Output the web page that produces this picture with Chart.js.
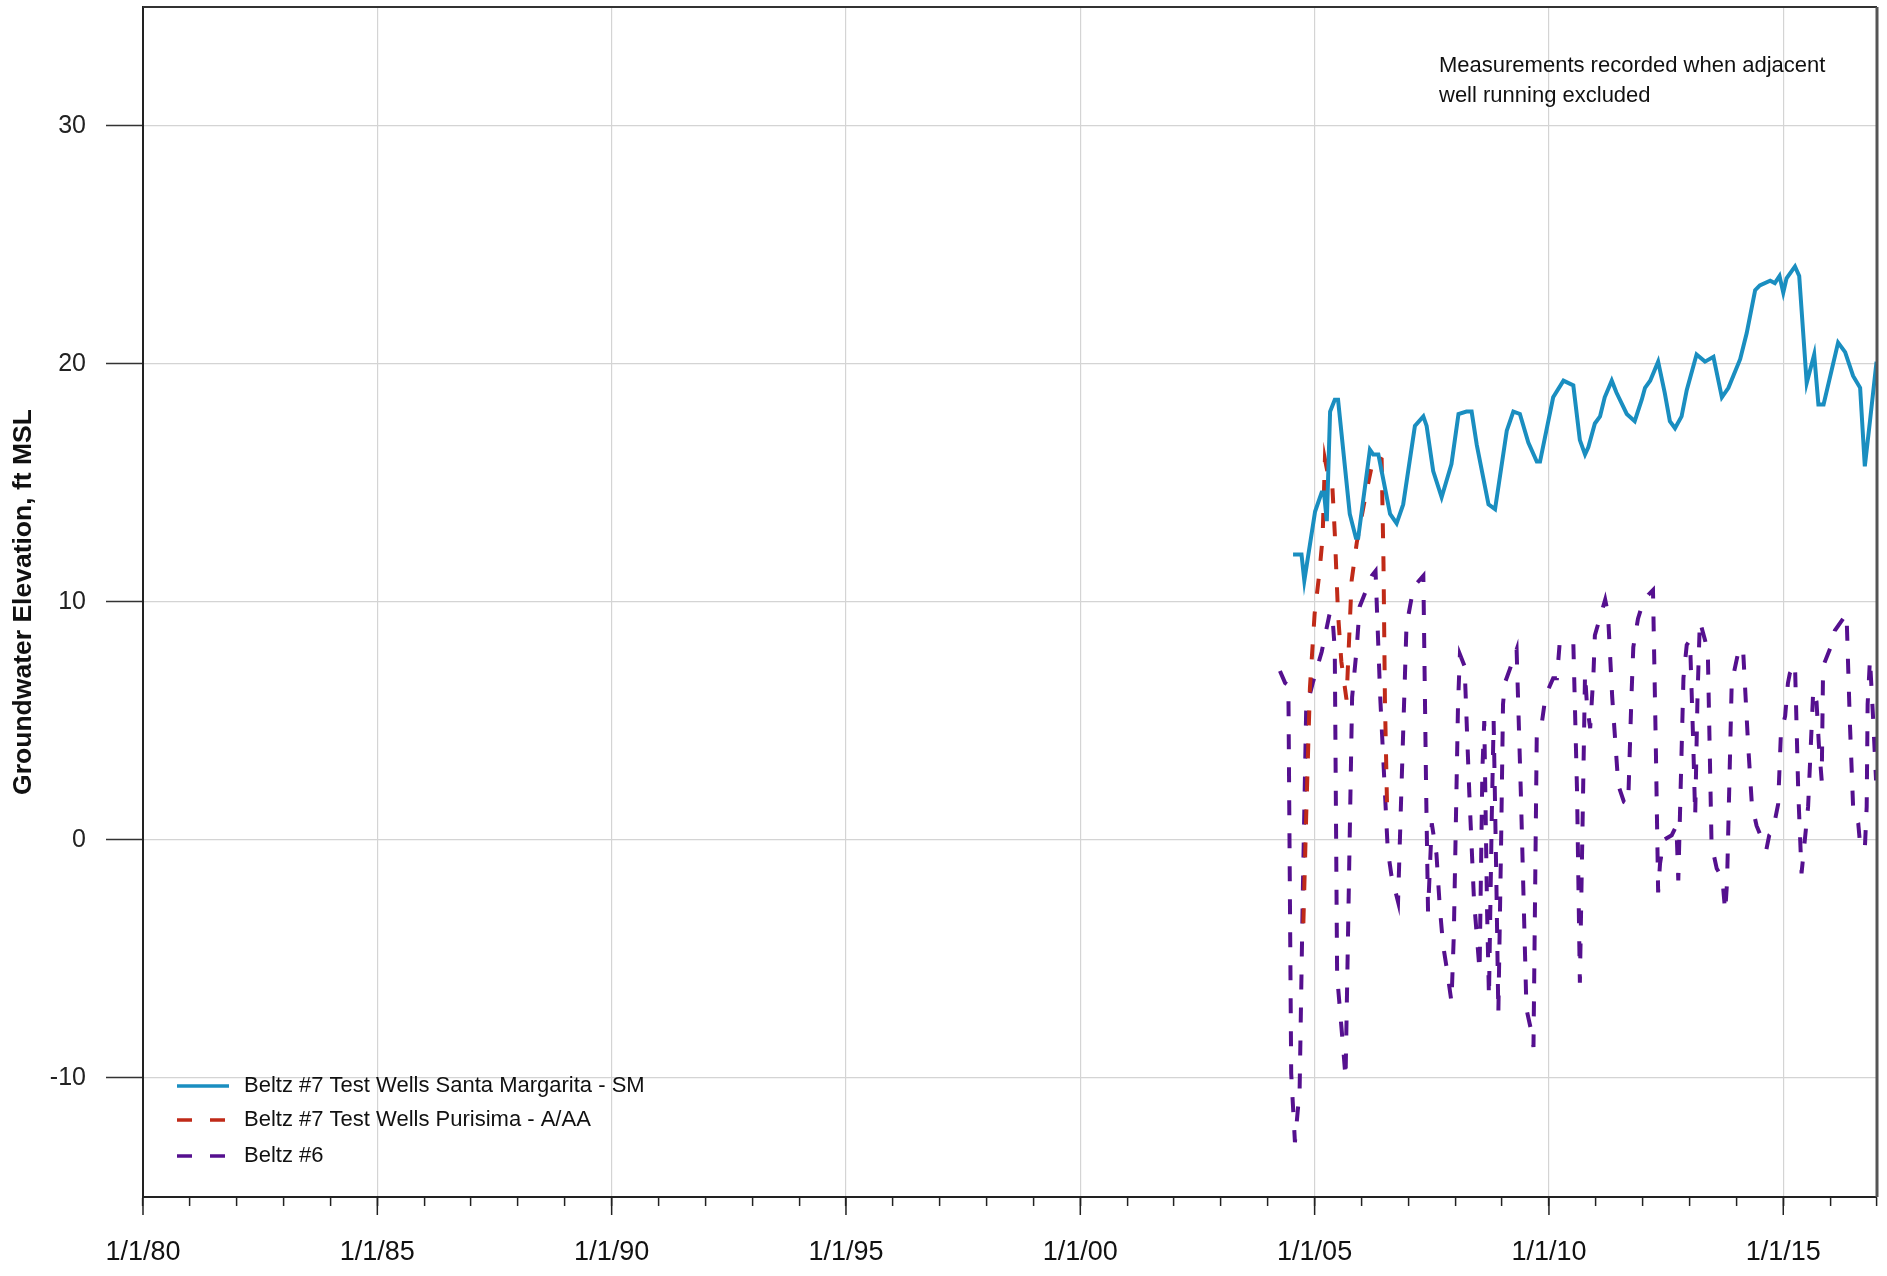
<!DOCTYPE html>
<html><head><meta charset="utf-8">
<script src="https://cdn.jsdelivr.net/npm/chart.js@4.4.1/dist/chart.umd.min.js"></script>
<style>html,body{margin:0;padding:0;background:#fff;}#wrap{width:1887px;height:1276px;position:relative;}</style>
</head><body><div id="wrap"><canvas id="c" width="1887" height="1276"></canvas></div>
<script>
// ---- Data (decimal year, ft MSL) ----
const smYears = [2004.54,2004.72,2004.78,2005.01,2005.15,2005.20,2005.26,2005.33,2005.43,2005.50,2005.75,2005.88,2005.93,2006.18,2006.25,2006.36,2006.50,2006.61,2006.75,2006.89,2007.14,2007.32,2007.39,2007.53,2007.71,2007.92,2008.07,2008.24,2008.35,2008.46,2008.71,2008.85,2009.10,2009.24,2009.38,2009.56,2009.74,2009.81,2010.09,2010.31,2010.52,2010.66,2010.77,2010.84,2010.98,2011.09,2011.19,2011.34,2011.44,2011.66,2011.83,2011.98,2012.05,2012.16,2012.33,2012.47,2012.58,2012.69,2012.83,2012.94,2013.15,2013.33,2013.51,2013.69,2013.83,2014.08,2014.22,2014.40,2014.50,2014.72,2014.82,2014.92,2015.00,2015.07,2015.25,2015.34,2015.50,2015.66,2015.75,2015.86,2016.17,2016.32,2016.49,2016.64,2016.74,2016.85,2016.99];
const smValues = [12.0,12.0,10.9,13.8,14.6,14.6,13.4,18.0,18.5,18.5,13.7,12.7,12.7,16.4,16.2,16.2,14.8,13.7,13.3,14.1,17.4,17.8,17.4,15.5,14.4,15.8,17.9,18.0,18.0,16.6,14.1,13.9,17.2,18.0,17.9,16.7,15.9,15.9,18.6,19.3,19.1,16.8,16.2,16.5,17.5,17.8,18.6,19.3,18.8,17.9,17.6,18.5,19.0,19.3,20.1,18.8,17.6,17.3,17.8,18.9,20.4,20.1,20.3,18.6,19.0,20.2,21.3,23.1,23.3,23.5,23.4,23.7,23.0,23.6,24.1,23.7,19.2,20.4,18.3,18.3,20.9,20.5,19.5,19.0,15.7,17.6,20.1];

const purYears = [2004.76,2004.82,2004.90,2005.00,2005.10,2005.17,2005.22,2005.30,2005.38,2005.43,2005.50,2005.57,2005.68,2005.72,2005.79,2005.90,2006.08,2006.25,2006.33,2006.43,2006.47,2006.50,2006.55];
const purValues = [-3.5,1.0,6.4,9.5,11.2,12.7,16.0,15.2,14.8,12.9,9.5,7.5,5.9,7.7,10.9,12.5,14.4,16.0,16.1,16.0,11.6,5.9,1.0];

const b6Years = [2004.26,2004.37,2004.44,2004.50,2004.58,2004.68,2004.75,2004.82,2004.96,2005.15,2005.33,2005.38,2005.43,2005.48,2005.62,2005.66,2005.73,2005.80,2005.90,2005.96,2006.22,2006.30,2006.40,2006.50,2006.56,2006.64,2006.78,2006.85,2006.96,2007.08,2007.14,2007.32,2007.38,2007.42,2007.50,2007.60,2007.67,2007.74,2007.82,2007.92,2007.97,2008.06,2008.10,2008.20,2008.30,2008.40,2008.52,2008.58,2008.62,2008.68,2008.72,2008.78,2008.82,2008.88,2008.92,2008.98,2009.02,2009.06,2009.17,2009.31,2009.40,2009.52,2009.62,2009.67,2009.74,2009.84,2009.91,2009.98,2010.09,2010.17,2010.23,2010.30,2010.52,2010.60,2010.66,2010.72,2010.77,2010.81,2010.88,2010.95,2010.98,2011.20,2011.26,2011.35,2011.48,2011.60,2011.69,2011.76,2011.80,2011.90,2011.98,2012.12,2012.22,2012.28,2012.33,2012.37,2012.45,2012.62,2012.72,2012.76,2012.87,2012.94,2013.01,2013.08,2013.12,2013.17,2013.22,2013.33,2013.39,2013.47,2013.58,2013.70,2013.76,2013.80,2013.90,2014.03,2014.14,2014.25,2014.33,2014.43,2014.64,2014.70,2014.78,2014.89,2014.95,2015.04,2015.10,2015.14,2015.25,2015.32,2015.39,2015.53,2015.64,2015.71,2015.76,2015.82,2015.85,2016.03,2016.10,2016.35,2016.42,2016.49,2016.60,2016.64,2016.74,2016.78,2016.80,2016.85,2016.92,2016.98];
const b6Values = [7.1,6.6,6.5,-9.8,-12.7,-10.5,-2.0,5.5,6.6,7.9,9.6,9.4,8.0,-5.7,-9.0,-10.0,-2.0,6.0,8.1,9.8,11.1,11.3,6.0,2.0,-0.4,-1.5,-2.6,2.0,9.0,10.3,10.7,11.1,2.0,-3.0,0.7,-0.6,-2.8,-4.4,-5.4,-6.8,-4.0,5.7,7.8,7.3,2.0,-2.5,-5.5,3.0,5.0,-3.0,-6.6,1.0,5.0,-2.0,-7.3,0.0,5.7,6.6,7.2,8.0,2.0,-7.1,-8.0,-8.7,4.4,4.8,5.8,6.3,6.8,6.8,8.3,8.3,8.3,2.0,-6.0,1.0,7.0,5.7,4.7,7.0,8.6,10.1,9.5,6.0,2.3,1.6,1.5,6.0,8.1,9.3,9.8,10.3,10.5,4.0,-2.2,-1.0,0.0,0.2,0.6,-1.7,6.8,8.2,8.4,4.0,1.0,6.0,9.2,8.4,7.9,-0.2,-1.2,-1.6,-3.0,-1.8,6.6,7.8,8.1,4.0,1.5,0.6,-0.4,0.2,0.4,1.5,4.5,5.2,6.6,7.0,7.4,2.0,-1.4,1.4,6.3,5.8,4.0,2.5,7.3,8.2,8.8,9.5,5.0,1.4,0.7,-0.2,-0.4,1.4,5.7,7.6,5.0,2.5];

const xTickYears = [1980,1985,1990,1995,2000,2005,2010,2015];
const xTickLabels = ['1/1/80','1/1/85','1/1/90','1/1/95','1/1/00','1/1/05','1/1/10','1/1/15'];
const yTicks = [-10,0,10,20,30];
const seriesNames = ['Beltz #7 Test Wells Santa Margarita - SM','Beltz #7 Test Wells Purisima - A/AA','Beltz #6'];
const noteLines = ['Measurements recorded when adjacent','well running excluded'];
const X_MIN = 1980, X_MAX = 2017, Y_MIN = -15, Y_MAX = 35;

const colors = ['#1a8ec0','#c02a18','#55108f'];
const dashes = [[], [15,18], [15,18]];

const toPts = (xs, ys) => xs.map((x,i)=>({x, y: ys[i]}));
const FONT = "'Liberation Sans', Arial, sans-serif";
Chart.defaults.font.family = FONT;

const minorYears = [];
for (let y = X_MIN; y <= X_MAX; y++) minorYears.push(y);

const decor = {
  id: 'decor',
  afterDraw(chart) {
    const {ctx, chartArea: a, scales: {x}} = chart;
    ctx.save();
    ctx.strokeStyle = '#333'; ctx.lineWidth = 2;
    ctx.beginPath(); ctx.moveTo(a.left, a.top); ctx.lineTo(a.right, a.top); ctx.stroke();
    ctx.strokeStyle = '#555'; ctx.lineWidth = 3;
    ctx.beginPath(); ctx.moveTo(a.right, a.top); ctx.lineTo(a.right, a.bottom); ctx.stroke();
    ctx.strokeStyle = '#222'; ctx.lineWidth = 1.5;
    xTickYears.forEach(yr => {
      const px = x.getPixelForValue(yr);
      ctx.beginPath(); ctx.moveTo(px, a.bottom); ctx.lineTo(px, a.bottom + 18); ctx.stroke();
    });
    const rows = [a.bottom - 111, a.bottom - 77, a.bottom - 41];
    ctx.font = '22px ' + FONT; ctx.textBaseline = 'middle'; ctx.fillStyle = '#111';
    seriesNames.forEach((name, i) => {
      ctx.strokeStyle = colors[i]; ctx.lineWidth = 3.5; ctx.setLineDash(dashes[i]);
      ctx.beginPath(); ctx.moveTo(a.left + 34, rows[i]); ctx.lineTo(a.left + 86, rows[i]); ctx.stroke();
      ctx.setLineDash([]);
      ctx.fillText(name, a.left + 101, rows[i]);
    });
    ctx.font = '22px ' + FONT;
    noteLines.forEach((t, i) => ctx.fillText(t, 1439, a.top + 59 + i * 30));
    ctx.restore();
  }
};

new Chart(document.getElementById('c'), {
  type: 'line',
  data: {
    datasets: [
      {label: seriesNames[0], data: toPts(smYears, smValues), borderColor: colors[0], borderWidth: 4, borderDash: dashes[0]},
      {label: seriesNames[1], data: toPts(purYears, purValues), borderColor: colors[1], borderWidth: 4, borderDash: dashes[1]},
      {label: seriesNames[2], data: toPts(b6Years, b6Values), borderColor: colors[2], borderWidth: 4, borderDash: dashes[2]}
    ]
  },
  options: {
    responsive: false, animation: false, devicePixelRatio: 1,
    layout: {padding: {top: 7, right: 10, left: 0, bottom: 0}},
    elements: {point: {radius: 0}, line: {tension: 0, fill: false}},
    plugins: {legend: {display: false}, tooltip: {enabled: false}},
    scales: {
      x: {
        type: 'linear', min: X_MIN, max: X_MAX,
        afterBuildTicks: s => { s.ticks = minorYears.map(v => ({value: v})); },
        afterFit: s => { s.height = 79; s.paddingLeft = 0; s.paddingRight = 0; },
        ticks: {
          autoSkip: false, maxRotation: 0, padding: 30, color: '#111',
          font: {size: 27},
          callback: v => { const i = xTickYears.indexOf(v); return i >= 0 ? xTickLabels[i] : ''; }
        },
        grid: {
          drawTicks: true, tickLength: 9, tickColor: '#222', tickWidth: 1.5, lineWidth: 1.2,
          color: c => (c.tick && xTickYears.includes(c.tick.value) && c.tick.value !== X_MIN) ? '#d4d4d4' : 'rgba(0,0,0,0)'
        },
        border: {display: true, color: '#222', width: 2}
      },
      y: {
        type: 'linear', min: Y_MIN, max: Y_MAX,
        afterBuildTicks: s => { s.ticks = yTicks.map(v => ({value: v})); },
        afterFit: s => { s.width = 143; s.paddingTop = 0; s.paddingBottom = 0; },
        ticks: {padding: 20, color: '#222', font: {size: 25}},
        grid: {drawTicks: true, tickLength: 37, tickColor: '#333', tickWidth: 1.5, color: '#d4d4d4', lineWidth: 1.2},
        border: {display: true, color: '#222', width: 2},
        title: {display: true, text: 'Groundwater Elevation, ft MSL', color: '#111', font: {size: 26.5, weight: 'bold'}, padding: {top: 8, bottom: 0}}
      }
    }
  },
  plugins: [decor]
});
</script>
</body></html>
